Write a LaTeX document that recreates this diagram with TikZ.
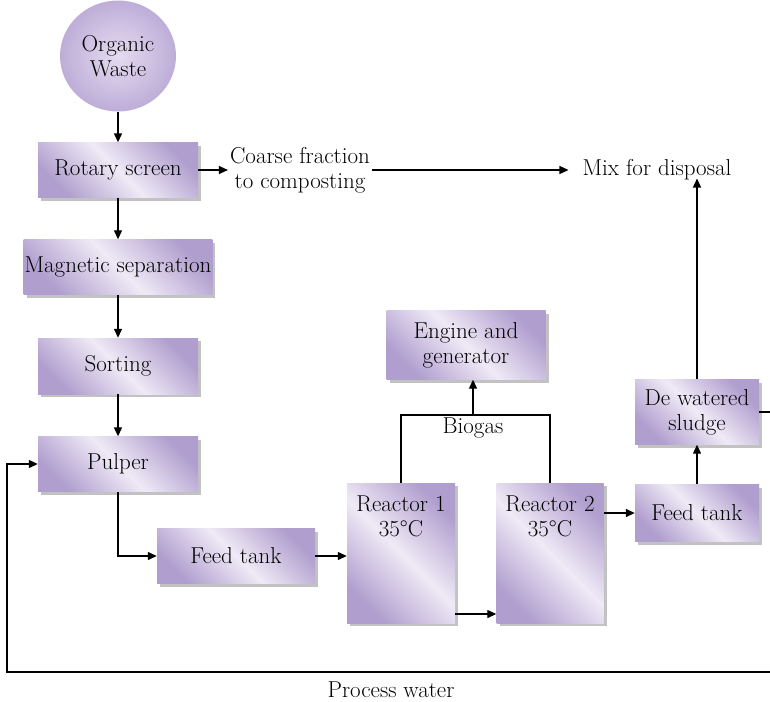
\documentclass[tikz,border=0pt]{standalone}
\usepackage{fontspec}
\usetikzlibrary{arrows.meta,shadows,shapes.geometric}

\definecolor{boxdark}{RGB}{176,158,206}
\definecolor{boxlight}{RGB}{239,234,246}
\definecolor{wastein}{RGB}{228,220,240}
\definecolor{wasteout}{RGB}{190,173,216}
\newcommand{\boxfont}{\rmfamily\fontsize{23}{25}\selectfont}

\tikzset{
  unit/.style={rectangle, shade, top color=boxdark, bottom color=boxdark,
    middle color=boxlight, shading angle=-45,
    drop shadow={shadow xshift=3pt, shadow yshift=-3pt, fill=black!40, opacity=0.6},
    inner xsep=1pt, align=center, font=\boxfont},
  txt/.style={align=center, font=\boxfont, inner sep=2pt},
  arr/.style={line width=1.3pt, -{Triangle[length=9pt,width=8pt]}},
  wire/.style={line width=1.3pt},
}

\begin{document}
\begin{tikzpicture}[x=1pt, y=-1pt]
    \useasboundingbox (0,0) rectangle (770,701);

    % Les blocs
    \node[ellipse, shade, inner color=wastein, outer color=wasteout, minimum width=116pt,
          minimum height=111pt, align=center, font=\boxfont] (waste) at (118,56) {Organic\\Waste};
    \node[unit, minimum width=160pt, minimum height=55pt] (rotary) at (118,170) {Rotary screen};
    \node[unit, minimum width=185pt, minimum height=55pt] (magnet) at (118,267) {Magnetic separation};
    \node[unit, minimum width=160pt, minimum height=56pt] (sorting) at (118,366) {Sorting};
    \node[unit, minimum width=160pt, minimum height=55pt] (pulper) at (118,464) {Pulper};
    \node[unit, minimum width=158pt, minimum height=55pt] (feedA) at (236,556) {Feed tank};
    \node[unit, minimum width=108pt, minimum height=140pt,
          label={[anchor=north, yshift=-9pt, align=center, font=\boxfont]north:{Reactor 1\\35°C}}]
          (reactorA) at (401,553) {};
    \node[unit, minimum width=107pt, minimum height=140pt,
          label={[anchor=north, yshift=-9pt, align=center, font=\boxfont]north:{Reactor 2\\35°C}}]
          (reactorB) at (550,553) {};
    \node[unit, minimum width=159pt, minimum height=69pt] (engine) at (466,345) {Engine and\\generator};
    \node[unit, minimum width=124pt, minimum height=57pt] (feedB) at (697,513) {Feed tank};
    \node[unit, minimum width=124pt, minimum height=65pt] (sludge) at (697,412) {De watered\\sludge};

    % Les textes
    \node[txt] (coarse) at (300,170) {Coarse fraction\\to composting};
    \node[txt] (mix) at (657,170) {Mix for disposal};
    \node[txt] (biogas) at (473,428) {Biogas};
    \node[txt] (water) at (391,690) {Process water};

    % Les points libres
    \coordinate (gas) at (473,415);
    \coordinate (sludgeR) at (770,412);
    \coordinate (waterR) at (770,672);
    \coordinate (waterL) at (7,672);

    % Les flèches
    \draw[arr] (waste) -- (rotary);
    \draw[arr] (rotary) -- (magnet);
    \draw[arr] (magnet) -- (sorting);
    \draw[arr] (sorting) -- (pulper);
    \draw[arr] (rotary) -- (coarse);
    \draw[arr, shorten >=12pt] (coarse) -- (mix);
    \draw[arr] (pulper.south) |- (feedA);
    \draw[arr] (feedA) -- (feedA -| reactorA.west);
    \draw[arr] (reactorA.east |- 0,614) -- (reactorB.west |- 0,614);
    \draw[wire] (reactorA.north) |- (gas) -| (reactorB.north);
    \draw[arr] (gas) -- (gas |- engine.south);
    \draw[arr] (reactorB.east |- feedB) -- (feedB);
    \draw[arr] (feedB) -- (sludge);
    \draw[arr, shorten >=-4pt] (sludge) -- (sludge |- mix.south);
    \draw[wire] (sludge) -- (sludgeR);
    \draw[arr] (waterR) -- (waterL) |- (pulper);
\end{tikzpicture}
\end{document}
